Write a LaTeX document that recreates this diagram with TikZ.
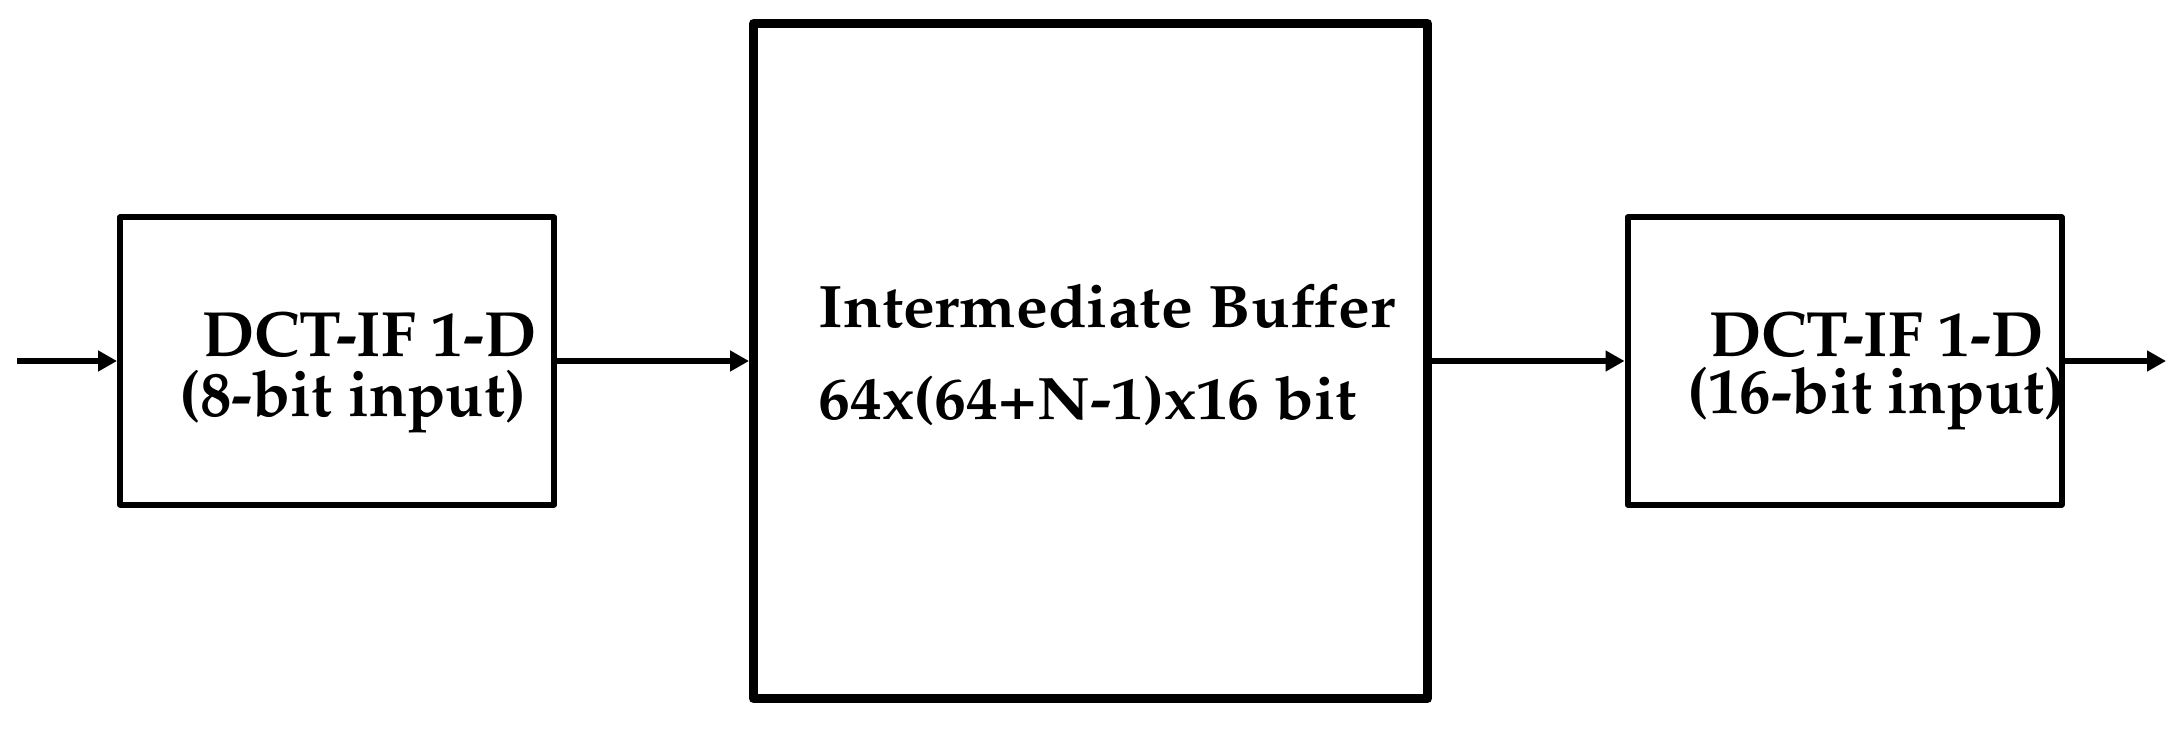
\documentclass[tikz,border=0pt]{standalone}
\usepackage[T1]{fontenc}
\usepackage{mathpazo}
\usetikzlibrary{arrows.meta}
\tikzset{
  blockbox/.style={draw=black, line width=3pt, line join=round, inner sep=0pt, minimum width=217pt, minimum height=143.5pt},
  bigbox/.style={draw=black, line width=4.5pt, line join=round, inner sep=0pt, minimum width=337pt, minimum height=337.5pt},
  flow/.style={line width=3pt, -{Triangle[length=9.5pt, width=10pt]}},
  lbl/.style={anchor=base west, inner sep=0pt, font=\fontsize{32}{32}\selectfont\bfseries},
  blbl/.style={anchor=base west, inner sep=0pt, font=\fontsize{30}{30}\selectfont\bfseries},
}
\begin{document}
\begin{tikzpicture}[x=0.5pt, y=-0.5pt]
\useasboundingbox (0,0) rectangle (2184,732);
\node[blockbox] (lbox) at (337,361) {};
\node[bigbox] (mbox) at (1090.5,361) {};
\node[blockbox] (rbox) at (1844.5,361) {};
\coordinate (in) at (17,361);
\coordinate (out) at (2166,361);
\draw[flow] (in) -- (lbox.west);
\draw[flow] (lbox.east) -- (mbox.west);
\draw[flow] (mbox.east) -- (rbox.west);
\draw[flow] (rbox.east) -- (out);
\node[lbl] (l1) at (202,357) {\scalebox{0.98}[1]{DCT-IF 1-D}};
\node[lbl] (l2) at (179,416) {\scalebox{0.98}[1]{(8-bit input)}};
\node[blbl] (m1) at (818,328) {\scalebox{1.06}[1]{Intermediate Buffer}};
\node[blbl] (m2) at (818,420) {\scalebox{1.06}[1]{64x(64+N-1)x16 bit}};
\node[lbl] (r1) at (1709,357) {\scalebox{0.98}[1]{DCT-IF 1-D}};
\node[lbl] (r2) at (1687,414) {\scalebox{0.98}[1]{(16-bit input)}};
\end{tikzpicture}
\end{document}
